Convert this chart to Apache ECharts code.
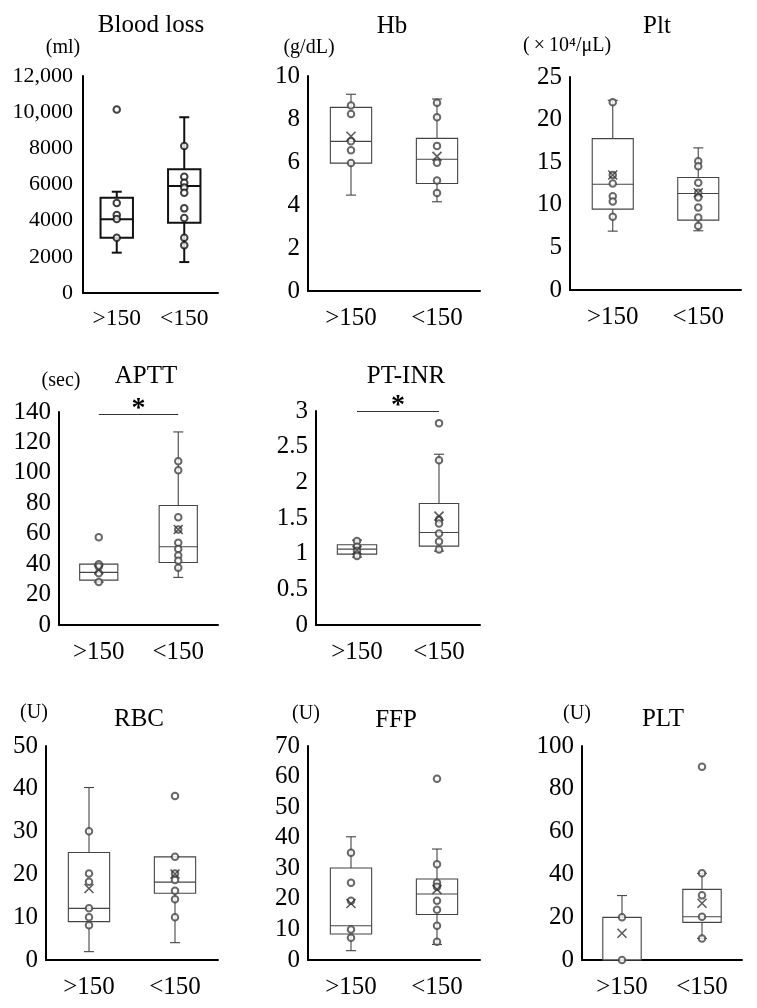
<!DOCTYPE html>
<html><head><meta charset="utf-8">
<script src="https://cdn.jsdelivr.net/npm/echarts@6/dist/echarts.min.js"></script>
<style>html,body{margin:0;padding:0;background:#fff}#c{width:757px;height:1008px}</style>
</head><body><div id="c"></div>
<script>
const categories = ['>150', '<150'];

// Box values per group: [min, Q1, median, Q3, max]
const bloodLossBox = [[2230, 3060, 4080, 5270, 5600], [1710, 3890, 5920, 6840, 9720]];
const bloodLossPoints = [[10150, 4980, 4310, 4090, 3060], [8130, 6430, 6100, 5840, 5550, 4680, 4150, 3060, 2640]];
const bloodLossMean = [null, null];
const bloodLossTicks = ['0', '2000', '4000', '6000', '8000', '10,000', '12,000'];

const hbBox = [[4.46, 5.95, 6.96, 8.54, 9.15], [4.15, 5.0, 6.13, 7.10, 8.93]];
const hbPoints = [[8.63, 8.23, 6.96, 6.55, 5.95], [8.76, 8.08, 6.75, 5.96, 5.14, 4.56]];
const hbMean = [7.2, 6.26];
const hbTicks = ['0', '2', '4', '6', '8', '10'];

const pltBox = [[6.91, 9.49, 12.42, 17.77, 22.27], [6.95, 8.2, 11.33, 13.2, 16.68]];
const pltPoints = [[22.03, 13.5, 12.5, 11.0, 10.4, 8.6], [15.12, 14.53, 12.58, 11.4, 10.86, 9.69, 8.52, 7.5]];
const pltMean = [13.5, 11.41];
const pltTicks = ['0', '5', '10', '15', '20', '25'];

const apttBox = [[28.2, 29.5, 34.6, 40.0, 40.0], [31.3, 41.1, 51.4, 78.5, 126.9]];
const apttPoints = [[57.6, 40.0, 38.5, 34.0, 28.2], [107.6, 101.7, 70.9, 62.8, 54.0, 49.9, 45.7, 42.2, 37.6]];
const apttMean = [36.3, 62.8];
const apttTicks = ['0', '20', '40', '60', '80', '100', '120', '140'];

const ptinrBox = [[0.952, 0.994, 1.064, 1.125, 1.19], [1.036, 1.106, 1.297, 1.703, 2.394]];
const ptinrPoints = [[1.176, 1.097, 1.04, 0.966], [2.83, 2.31, 1.48, 1.423, 1.283, 1.171, 1.059]];
const ptinrMean = [1.05, 1.526];
const ptinrTicks = ['0', '0.5', '1', '1.5', '2', '2.5', '3'];

const rbcBox = [[1.95, 8.96, 12.07, 25.1, 40.3], [4.05, 15.6, 18.2, 24.1, 24.1]];
const rbcPoints = [[30.1, 20.2, 18.3, 12.07, 10.0, 8.1], [38.3, 24.1, 20.2, 18.7, 16.2, 14.2, 10.0]];
const rbcMean = [16.7, 20.1];
const rbcTicks = ['0', '10', '20', '30', '40', '50'];

const ffpBox = [[3.05, 8.5, 11.2, 30.1, 40.3], [5.1, 14.9, 21.6, 26.5, 36.3]];
const ffpPoints = [[35.1, 25.3, 19.4, 10.0, 7.3], [59.3, 31.3, 25.3, 24.0, 19.4, 16.4, 11.2, 6.0]];
const ffpMean = [18.5, 23.1];
const ffpTicks = ['0', '10', '20', '30', '40', '50', '60', '70'];

const pltUBox = [[0, 0, 0, 19.9, 30.1], [10.1, 17.6, 20.2, 33.0, 40.5]];
const pltUPoints = [[20.0, 0], [90.3, 40.5, 30.2, 20.2, 10.1]];
const pltUMean = [12.5, 26.5];
const pltUTicks = ['0', '20', '40', '60', '80', '100'];

// significance bar heights (data units)
const apttSig = 138.5;
const ptinrSig = 2.99;

const panels = [
  {title: 'Blood loss', unit: '(ml)', box: bloodLossBox, pts: bloodLossPoints, mean: bloodLossMean, ticks: bloodLossTicks, max: 12000, interval: 2000,
   grid: {left: 83, top: 76, width: 135, height: 217}, tx: 151, ty: 13, ux: 63, uy: 38, bold: true, fs: 22, xfs: 23.5, ym: 10, xm: 14},
  {title: 'Hb', unit: '(g/dL)', box: hbBox, pts: hbPoints, mean: hbMean, ticks: hbTicks, max: 10, interval: 2,
   grid: {left: 308, top: 76, width: 172, height: 215}, tx: 392, ty: 14, ux: 309, uy: 38},
  {title: 'Plt', unit: '(\u2009×\u200910⁴/μL)', box: pltBox, pts: pltPoints, mean: pltMean, ticks: pltTicks, max: 25, interval: 5,
   grid: {left: 570, top: 77, width: 171, height: 213}, tx: 657, ty: 14, ux: 567, uy: 36},
  {title: 'APTT', unit: '(sec)', box: apttBox, pts: apttPoints, mean: apttMean, ticks: apttTicks, max: 140, interval: 20,
   grid: {left: 59, top: 412, width: 159, height: 213}, tx: 146, ty: 364, ux: 61, uy: 371, sig: apttSig},
  {title: 'PT-INR', unit: '', box: ptinrBox, pts: ptinrPoints, mean: ptinrMean, ticks: ptinrTicks, max: 3, interval: 0.5,
   grid: {left: 316, top: 411, width: 164, height: 214}, tx: 406, ty: 364, ux: 0, uy: 0, sig: ptinrSig},
  {title: 'RBC', unit: '(U)', box: rbcBox, pts: rbcPoints, mean: rbcMean, ticks: rbcTicks, max: 50, interval: 10,
   grid: {left: 46, top: 746, width: 172, height: 214}, tx: 139, ty: 707, ux: 34, uy: 703},
  {title: 'FFP', unit: '(U)', box: ffpBox, pts: ffpPoints, mean: ffpMean, ticks: ffpTicks, max: 70, interval: 10,
   grid: {left: 308, top: 746, width: 172, height: 214}, tx: 396, ty: 708, ux: 306, uy: 704},
  {title: 'PLT', unit: '(U)', box: pltUBox, pts: pltUPoints, mean: pltUMean, ticks: pltUTicks, max: 100, interval: 20,
   grid: {left: 582, top: 746, width: 160, height: 214}, tx: 663, ty: 707, ux: 577, uy: 704}
];

const FONT = 'Liberation Serif';
const grids = [], xAxes = [], yAxes = [], series = [], titles = [];

panels.forEach((p, i) => {
  const fs = p.fs || 25;
  grids.push(Object.assign({containLabel: false}, p.grid));
  xAxes.push({
    type: 'category', gridIndex: i, data: categories,
    axisLine: {lineStyle: {color: '#000', width: 2}},
    axisTick: {show: false},
    axisLabel: {color: '#000', fontFamily: FONT, fontSize: p.xfs || fs, margin: p.xm || 15}
  });
  const ticks = p.ticks;
  yAxes.push({
    type: 'value', gridIndex: i, min: 0, max: p.max, interval: p.interval,
    axisLine: {show: true, lineStyle: {color: '#000', width: 2}},
    axisTick: {show: false}, splitLine: {show: false},
    axisLabel: {color: '#000', fontFamily: FONT, fontSize: fs, margin: p.ym || 8,
      formatter: (v) => ticks[Math.round(v / p.interval)]}
  });
  const stroke = p.bold ? '#111' : '#444';
  const lw = p.bold ? 2 : 1.1;
  series.push({
    type: 'custom', xAxisIndex: i, yAxisIndex: i, z: 2,
    data: p.box.map((b, k) => [k].concat(b)),
    encode: {x: 0, y: [1, 2, 3, 4, 5]},
    renderItem: (params, api) => {
      const x = api.value(0);
      const pMin = api.coord([x, api.value(1)]);
      const pQ1 = api.coord([x, api.value(2)]);
      const pMed = api.coord([x, api.value(3)]);
      const pQ3 = api.coord([x, api.value(4)]);
      const pMax = api.coord([x, api.value(5)]);
      const bw = api.size([1, 0])[0] * 0.48;
      const cx = pMed[0];
      const cap = 5;
      const st = {stroke: stroke, lineWidth: lw, fill: null};
      return {type: 'group', children: [
        {type: 'line', shape: {x1: cx, y1: pQ3[1], x2: cx, y2: pMax[1]}, style: st},
        {type: 'line', shape: {x1: cx, y1: pQ1[1], x2: cx, y2: pMin[1]}, style: st},
        {type: 'line', shape: {x1: cx - cap, y1: pMax[1], x2: cx + cap, y2: pMax[1]}, style: st},
        {type: 'line', shape: {x1: cx - cap, y1: pMin[1], x2: cx + cap, y2: pMin[1]}, style: st},
        {type: 'rect', shape: {x: cx - bw / 2, y: pQ3[1], width: bw, height: pQ1[1] - pQ3[1]}, style: {stroke: stroke, lineWidth: lw, fill: '#fff'}},
        {type: 'line', shape: {x1: cx - bw / 2, y1: pMed[1], x2: cx + bw / 2, y2: pMed[1]}, style: st}
      ]};
    }
  });
  const ptData = [];
  p.pts.forEach((arr, k) => arr.forEach(v => ptData.push([k, v])));
  const s = {
    type: 'scatter', xAxisIndex: i, yAxisIndex: i, z: 3, clip: false,
    symbol: 'emptyCircle', symbolSize: 6.5,
    itemStyle: {color: stroke, borderWidth: p.bold ? 1.6 : 1.1},
    data: ptData, silent: true
  };
  if (p.sig !== undefined) {
    s.markLine = {
      silent: true, symbol: 'none',
      lineStyle: {color: '#333', width: 1, type: 'solid'},
      label: {show: true, formatter: '*', position: 'insideMiddleTop', color: '#000', fontFamily: FONT, fontSize: 28, fontWeight: 'bold', distance: 0, offset: [0, 8]},
      data: [[{coord: [0, p.sig]}, {coord: [1, p.sig]}]]
    };
  }
  series.push(s);
  const meanData = [];
  p.mean.forEach((v, k) => { if (v !== null) meanData.push([k, v]); });
  series.push({
    type: 'scatter', xAxisIndex: i, yAxisIndex: i, z: 4,
    symbol: 'path://M0,0L10,10M10,0L0,10', symbolSize: 9,
    itemStyle: {color: 'none', borderColor: '#333', borderWidth: 1.6},
    data: meanData, silent: true
  });
  titles.push({text: p.title, left: p.tx, top: p.ty, textAlign: 'center', padding: 0,
    textStyle: {fontFamily: FONT, fontSize: 25, fontWeight: 'normal', color: '#000'}});
  if (p.unit) titles.push({text: p.unit, left: p.ux, top: p.uy, textAlign: 'center', padding: 0,
    textStyle: {fontFamily: FONT, fontSize: 20, fontWeight: 'normal', color: '#000'}});
});

const chart = echarts.init(document.getElementById('c'), null, {renderer: 'canvas'});
chart.setOption({
  backgroundColor: '#fff', animation: false,
  title: titles, grid: grids, xAxis: xAxes, yAxis: yAxes, series: series
});
</script></body></html>
